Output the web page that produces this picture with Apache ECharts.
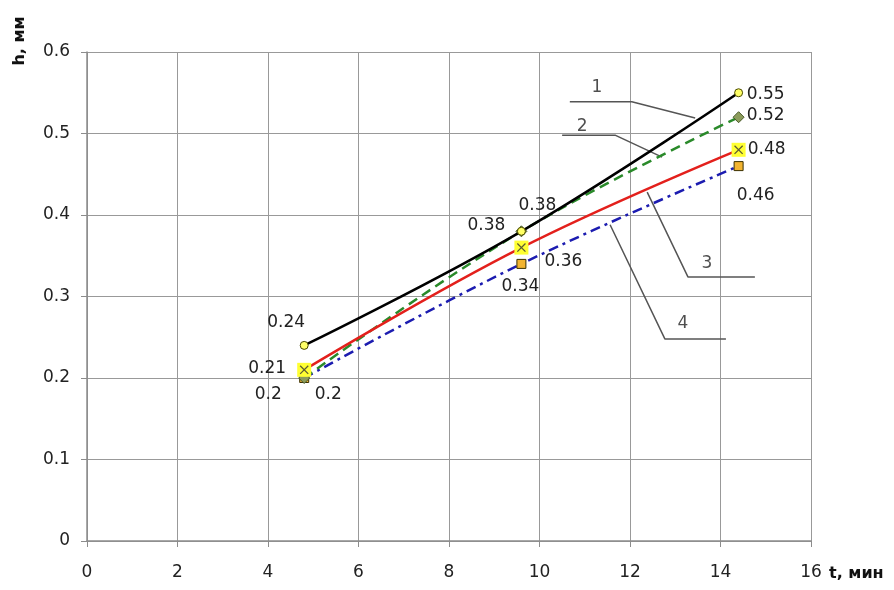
<!DOCTYPE html>
<html>
<head>
<meta charset="utf-8">
<script src="https://cdn.jsdelivr.net/npm/echarts@6/dist/echarts.min.js"></script>
<style>html,body{margin:0;padding:0;background:#fff}#c{width:894px;height:590px}</style>
</head>
<body>
<div id="c"></div>
<script>
// ---- data ----
const tValues = [4.8, 9.6, 14.4];
const curve1 = [0.24, 0.38, 0.55];
const curve2 = [0.20, 0.38, 0.52];
const curve3 = [0.21, 0.36, 0.48];
const curve4 = [0.20, 0.34, 0.46];
const xTickLabels = ['0','2','4','6','8','10','12','14','16'];
const yTickLabels = ['0','0.1','0.2','0.3','0.4','0.5','0.6'];
const xTitle = 't, мин';
const yTitle = 'h, мм';
// leader (callout) lines, in data coordinates
const leaderNames = ['1','2','3','4'];
const leader1 = [[10.67,0.539],[12.04,0.539],[13.44,0.519]];
const leader2 = [[10.50,0.498],[11.67,0.498],[12.71,0.471]];
const leader3 = [[12.38,0.428],[13.28,0.324],[14.76,0.324]];
const leader4 = [[11.56,0.388],[12.77,0.248],[14.12,0.248]];
const leaderTextAt = [[11.27,0.556],[10.94,0.508],[13.70,0.341],[13.17,0.267]];

// ---- presentation ----
const FONT = 'DejaVu Sans';
const labelOffsets = {
  c1: [[-18,-23],[-35,-6],[27,2]],
  c2: [[24,17],[16,-26],[27,-2]],
  c3: [[-37,-1],[42,14],[28,0]],
  c4: [[-36,17],[-1,23],[17,29]]
};
function mk(vals, offs){
  return tValues.map((t,i)=>({value:[t, vals[i]], label:{offset: offs[i]}}));
}
const dataLabel = {
  show:true, position:'inside', align:'center', verticalAlign:'middle',
  fontFamily:FONT, fontSize:17, color:'#222',
  formatter: p => String(p.value[1])
};
const chart = echarts.init(document.getElementById('c'), null, {renderer:'canvas'});
const leaderStyle = {color:'#555', width:1.5};
function leaderSeries(pts){
  return {type:'line', data:pts, symbol:'none', silent:true, z:1,
    lineStyle:leaderStyle, animation:false};
}
const option = {
  animation:false,
  backgroundColor:'#fff',
  grid:{left:87, top:52, width:724, height:489, containLabel:false, outerBoundsMode:'none'},
  graphic:[
    {type:'text', x:20, y:41, rotation:Math.PI/2,
      style:{text:yTitle, font:'bold 16px "DejaVu Sans"', fill:'#111', align:'center', verticalAlign:'middle'}},
    {type:'text', x:829, y:574,
      style:{text:xTitle, font:'bold 16px "DejaVu Sans"', fill:'#111', align:'left', verticalAlign:'middle'}}
  ],
  xAxis:{
    type:'value', min:0, max:16, interval:2,
    axisLine:{show:true, onZero:false, lineStyle:{color:'#8c8c8c', width:1.5}},
    axisTick:{show:true, length:6, lineStyle:{color:'#8c8c8c'}},
    splitLine:{show:true, lineStyle:{color:'#999', width:1}},
    axisLabel:{margin:23, fontFamily:FONT, fontSize:17, color:'#222',
      formatter:v => xTickLabels[Math.round(v/2)] ?? ''}
  },
  yAxis:{
    type:'value', min:0, max:0.6, interval:0.1,
    axisLine:{show:true, lineStyle:{color:'#8c8c8c', width:1.5}},
    axisTick:{show:true, length:6, lineStyle:{color:'#8c8c8c'}},
    splitLine:{show:true, lineStyle:{color:'#999', width:1}},
    axisLabel:{margin:17, fontFamily:FONT, fontSize:17, color:'#222',
      formatter:v => yTickLabels[Math.round(v*10)] ?? ''}
  },
  series:[
    leaderSeries(leader1), leaderSeries(leader2), leaderSeries(leader3), leaderSeries(leader4),
    {type:'scatter', silent:true, symbolSize:0, z:1,
      data: leaderTextAt.map((p,i)=>({value:p, name:leaderNames[i]})),
      label:{show:true, position:'inside', formatter:p=>p.name, fontFamily:FONT, fontSize:17, color:'#222'}},
    {name:'4', type:'line', smooth:0.4, z:3, data:mk(curve4, labelOffsets.c4),
      lineStyle:{color:'#1c1cb0', width:2.5, type:[10,5,3,5]},
      symbol:'rect', symbolSize:9, itemStyle:{color:'#f2b431', borderColor:'#3a3000', borderWidth:1},
      label:dataLabel},
    {name:'2', type:'line', smooth:0.4, z:4, data:mk(curve2, labelOffsets.c2),
      lineStyle:{color:'#2a8a2a', width:2.5, type:[10,6]},
      symbol:'diamond', symbolSize:11, itemStyle:{color:'#8c9c5c', borderColor:'#4a5a2a', borderWidth:1},
      label:dataLabel},
    {name:'3', type:'line', smooth:0.4, z:5, data:mk(curve3, labelOffsets.c3),
      lineStyle:{color:'#e3201c', width:2.5},
      symbol:'rect', symbolSize:14, itemStyle:{color:'#ffff33', borderWidth:0},
      label:dataLabel},
    {type:'scatter', z:6, silent:true,
      data: tValues.map((t,i)=>[t, curve3[i]]),
      symbol:'path://M0,1L1,0L10,9L9,10Z M9,0L10,1L1,10L0,9Z', symbolSize:9,
      itemStyle:{color:'#333'}},
    {name:'1', type:'line', smooth:0.4, z:7, data:mk(curve1, labelOffsets.c1),
      lineStyle:{color:'#000', width:2.5},
      symbol:'circle', symbolSize:8, itemStyle:{color:'#ffff66', borderColor:'#4a4a00', borderWidth:1},
      label:dataLabel}
  ]
};
chart.setOption(option);
</script>
</body>
</html>
